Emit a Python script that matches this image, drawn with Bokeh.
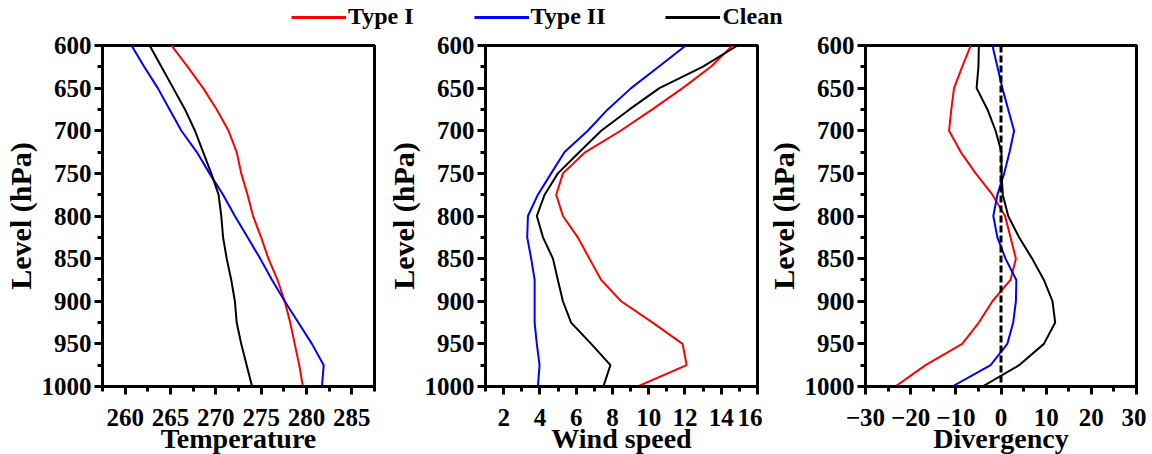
from bokeh.plotting import figure
from bokeh.models import Range1d, SingleIntervalTicker, Legend, LegendItem, Span
from bokeh.layouts import column, row
from bokeh.embed import file_html
from bokeh.resources import INLINE

levels = [600, 625, 650, 675, 700, 725, 750, 775, 800, 825, 850, 875, 900, 925, 950, 975, 1000]

temp_type1 = [265.1, 266.9, 268.6, 270.1, 271.4, 272.3, 272.8, 273.5, 274.1, 275.0, 275.8, 276.8, 277.6, 278.2, 278.7, 279.2, 279.6]
temp_type2 = [260.7, 262.1, 263.6, 264.9, 266.2, 267.9, 269.3, 270.8, 272.1, 273.5, 274.9, 276.2, 277.6, 279.1, 280.6, 281.9, 281.7]
temp_clean = [262.7, 264.0, 265.3, 266.6, 267.7, 268.6, 269.5, 270.3, 270.6, 270.8, 271.2, 271.7, 272.1, 272.3, 272.8, 273.4, 274.0]

wind_type1 = [14.62, 13.43, 11.87, 10.2, 8.45, 6.51, 5.27, 4.90, 5.27, 6.09, 6.73, 7.38, 8.48, 10.22, 11.87, 12.09, 9.39]
wind_type2 = [12.05, 10.55, 9.03, 7.74, 6.64, 5.36, 4.62, 3.89, 3.34, 3.30, 3.52, 3.71, 3.71, 3.71, 3.83, 3.98, 3.89]
wind_clean = [14.9, 12.97, 10.59, 8.94, 7.38, 6.18, 4.99, 4.26, 3.83, 4.17, 4.72, 4.99, 5.27, 5.72, 6.83, 7.89, 7.50]

div_type1 = [-6.7, -8.6, -10.4, -11.0, -11.5, -8.9, -5.6, -1.9, 0.9, 2.1, 3.3, 2.1, -1.9, -4.9, -8.6, -16.7, -23.4]
div_type2 = [-1.9, -0.8, 0.3, 1.6, 2.9, 1.9, 0.7, -0.8, -1.7, -0.8, 1.0, 3.4, 3.3, 2.7, 1.4, -2.3, -10.8]
div_clean = [-4.9, -5.0, -5.4, -3.0, -1.2, 0.1, 0.1, 0.4, 1.6, 4.0, 6.9, 9.5, 11.4, 12.0, 9.5, 4.0, -4.1]

series_names = ["Type I", "Type II", "Clean"]
series_colors = ["#ff0000", "#0000ff", "#000000"]

FONT = "Liberation Serif"
LW = 2


def make_panel(xlabel, xr, xint, data, left_border, right_border, frame_w):
    p = figure(output_backend="svg", toolbar_location=None,
               x_range=Range1d(*xr), y_range=Range1d(1000, 600),
               frame_width=frame_w, frame_height=341,
               min_border_left=left_border, min_border_right=right_border,
               min_border_top=14, min_border_bottom=60)
    p.grid.visible = False
    p.outline_line_color = "black"
    p.outline_line_width = 3
    p.background_fill_color = "white"
    p.border_fill_color = "white"
    p.xaxis.ticker = SingleIntervalTicker(interval=xint, num_minor_ticks=2)
    p.yaxis.ticker = SingleIntervalTicker(interval=50, num_minor_ticks=2)
    for ax in (p.xaxis[0], p.yaxis[0]):
        ax.axis_line_width = 3
        ax.major_tick_line_width = 3
        ax.minor_tick_line_width = 3
        ax.major_tick_in = 0
        ax.major_tick_out = 8
        ax.minor_tick_in = 0
        ax.minor_tick_out = 5
        ax.major_label_text_font = FONT
        ax.major_label_text_font_style = "bold"
        ax.major_label_text_font_size = "25px"
        ax.major_label_text_color = "black"
        ax.axis_label_text_font = FONT
        ax.axis_label_text_font_style = "bold"
        ax.axis_label_text_color = "black"
    p.xaxis.axis_label = xlabel
    p.yaxis.axis_label = "Level (hPa)"
    p.xaxis.axis_label_text_font_size = "28px"
    p.yaxis.axis_label_text_font_size = "30px"
    p.xaxis.major_label_standoff = 14
    p.xaxis.axis_label_standoff = -6
    p.yaxis.major_label_standoff = 3
    p.yaxis.axis_label_standoff = 2
    for vals, col in zip(data, series_colors):
        p.line(vals, levels, line_color=col, line_width=LW)
    return p


p1 = make_panel("Temperature", (257.5, 287.5), 5, [temp_type1, temp_type2, temp_clean], 92, 5, 272)
p2 = make_panel("Wind speed", (1, 16), 2, [wind_type1, wind_type2, wind_clean], 106, 5, 272)
p3 = make_panel("Divergency", (-30, 30), 10, [div_type1, div_type2, div_clean], 103, 10, 271)
p3.add_layout(Span(location=0, dimension="height", line_color="black", line_width=3, line_dash="7 3"))

# legend strip (proxy lines lie outside this strip's ranges, so only the legend shows)
lg = figure(output_backend="svg", toolbar_location=None, width=1136, height=31,
            x_range=Range1d(0, 1), y_range=Range1d(0, 1),
            min_border=0, min_border_left=0, min_border_right=0, min_border_top=0, min_border_bottom=0)
lg.axis.visible = False
lg.grid.visible = False
lg.outline_line_color = None
lg.background_fill_color = "white"
lg.border_fill_color = "white"
items = []
for name, col, vals in zip(series_names, series_colors, [temp_type1, temp_type2, temp_clean]):
    r = lg.line(vals, levels, line_color=col, line_width=3)
    items.append(LegendItem(label=name, renderers=[r]))
legend = Legend(items=items, orientation="horizontal", location=(291, 1),
                glyph_width=55, glyph_height=26, label_standoff=2, spacing=60,
                padding=0, margin=0, border_line_color=None, background_fill_alpha=0,
                label_text_font=FONT, label_text_font_style="bold", label_text_font_size="24px",
                label_text_color="black", label_height=26, label_text_baseline="middle")
lg.add_layout(legend)

layout = column(lg, row(p1, p2, p3))
open("out.html", "w").write(file_html(layout, INLINE))
